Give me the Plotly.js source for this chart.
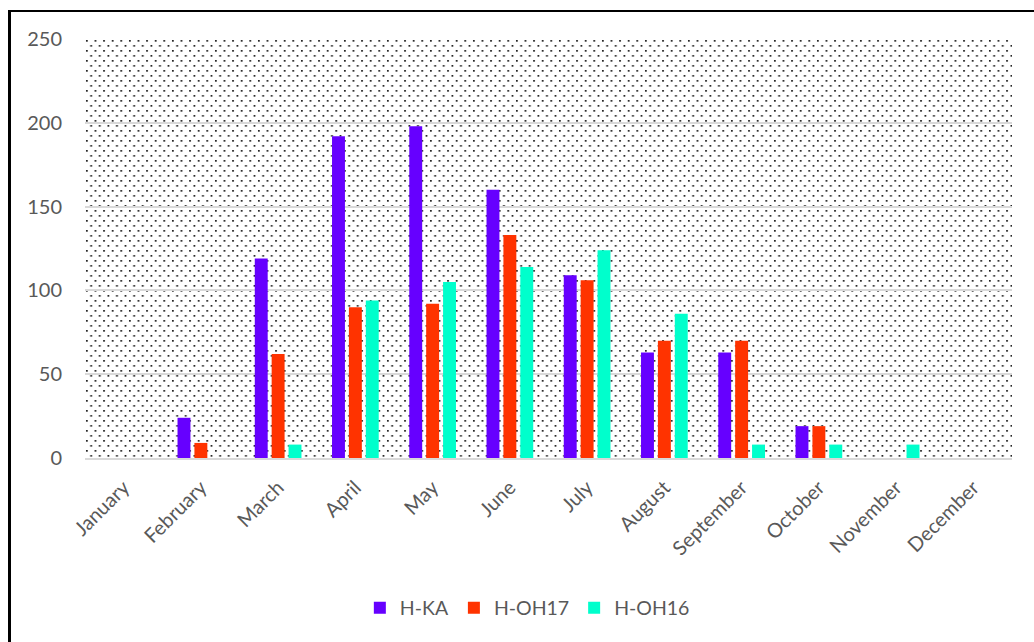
<!DOCTYPE html>
<html>
<head>
<meta charset="utf-8">
<script src="https://cdn.plot.ly/plotly-3.0.1.min.js"></script>
<style>
  html, body { margin: 0; padding: 0; background: #fff; overflow: hidden; }
  #wrap { position: relative; width: 1034px; height: 642px; }
  #chart { width: 1034px; height: 642px; }
  #frame {
    position: absolute; left: 8px; top: 10px; width: 1100px; height: 700px;
    border-left: 3px solid #000; border-top: 2px solid #000;
    pointer-events: none; box-sizing: border-box;
  }
</style>
</head>
<body>
<div id="wrap">
  <div id="chart"></div>
  <div id="frame"></div>
</div>
<script>
// Monthly counts per series
const months = ['January', 'February', 'March', 'April', 'May', 'June',
                'July', 'August', 'September', 'October', 'November', 'December'];
const hKA   = [null, 24, 119, 192, 198, 160, 109, 63, 63, 19, null, null];
const hOH17 = [null, 9, 62, 90, 92, 133, 106, 70, 70, 19, null, null];
const hOH16 = [null, null, 8, 94, 105, 114, 124, 86, 8, 8, 8, null];
const yTicks = [0, 50, 100, 150, 200, 250];

const seriesNames  = ['H-KA', 'H-OH17', 'H-OH16'];
const seriesColors = ['#6600FF', '#FF3300', '#00FFCC'];
const seriesValues = [hKA, hOH17, hOH16];

const traces = seriesValues.map((vals, i) => ({
  type: 'bar',
  name: seriesNames[i],
  x: months,
  y: vals,
  marker: { color: seriesColors[i], line: { width: 0 } },
  hoverinfo: 'x+y+name'
}));

// Dotted fill for the plotting area
const dotsSvg =
  "<svg xmlns='http://www.w3.org/2000/svg' width='927' height='419' viewBox='0 0 927 419' preserveAspectRatio='none'>" +
  "<defs><pattern id='d' width='8.6' height='10' patternUnits='userSpaceOnUse'>" +
  "<rect x='1' y='1' width='1.7' height='1.7' fill='#1a1a1a'/>" +
  "<rect x='5.3' y='6' width='1.7' height='1.7' fill='#1a1a1a'/>" +
  "</pattern></defs>" +
  "<rect width='927' height='419' fill='#fff'/>" +
  "<rect width='927' height='419' fill='url(#d)'/></svg>";

const fontFamily = 'Lato, "Open Sans", sans-serif';
const labelFont = { family: fontFamily, size: 20, color: '#595959' };

const layout = {
  width: 1034,
  height: 642,
  margin: { l: 85, r: 22, t: 39, b: 184 },
  paper_bgcolor: '#ffffff',
  plot_bgcolor: '#ffffff',
  barmode: 'group',
  bargap: 0.344,
  bargroupgap: 0.235,
  showlegend: true,
  legend: {
    orientation: 'h',
    xref: 'container', yref: 'container',
    x: 0.51, xanchor: 'center',
    y: 0.053, yanchor: 'middle',
    font: { family: fontFamily, size: 19.5, color: '#595959' },
    itemclick: false
  },
  xaxis: {
    type: 'category',
    tickangle: -45,
    tickfont: { family: fontFamily, size: 20, color: '#595959' },
    showgrid: false,
    showline: true,
    linecolor: '#d9d9d9',
    linewidth: 2,
    ticks: '',
    ticklabelstandoff: 8,
    fixedrange: true
  },
  yaxis: {
    range: [0, 250],
    tickvals: yTicks,
    ticktext: yTicks.map(String),
    tickfont: labelFont,
    showgrid: true,
    gridcolor: '#d9d9d9',
    gridwidth: 1.5,
    zeroline: false,
    showline: false,
    ticks: '',
    ticklabelstandoff: 22,
    fixedrange: true
  },
  images: [{
    source: 'data:image/svg+xml;charset=utf-8,' + encodeURIComponent(dotsSvg),
    xref: 'paper', yref: 'paper',
    x: 0, y: 1, sizex: 1, sizey: 1,
    xanchor: 'left', yanchor: 'top',
    sizing: 'stretch',
    layer: 'below'
  }]
};

Plotly.newPlot('chart', traces, layout, { displayModeBar: false });
</script>
</body>
</html>
